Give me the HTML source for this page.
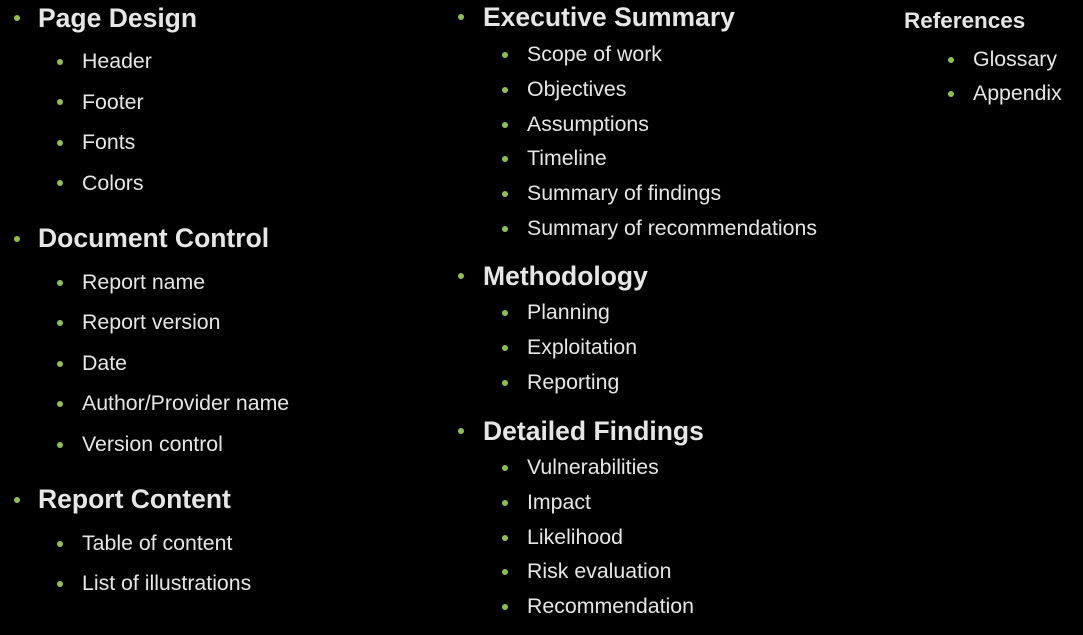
<!DOCTYPE html>
<html><head><meta charset="utf-8"><style>
html,body{margin:0;padding:0;background:#000;width:1083px;height:635px;overflow:hidden}
body{position:relative;font-family:"Liberation Sans",sans-serif;color:#e6e6e6}
.h,.i,.r{position:absolute;white-space:nowrap;line-height:1}
.h{font-size:26.5px;font-weight:bold;margin-top:0px}
.i{font-size:21.3px;margin-top:1px}
.r{font-size:22.5px;font-weight:bold;margin-top:0px}
.b{position:absolute;width:6px;height:6px;border-radius:50%;background:#8fc04f;margin-top:1px}
</style></head><body>
<div class="b" style="left:14px;top:14px"></div><div class="h" style="left:38px;top:5px">Page Design</div>
<div class="b" style="left:57px;top:58px"></div><div class="i" style="left:82px;top:50px">Header</div>
<div class="b" style="left:57px;top:98px"></div><div class="i" style="left:82px;top:91px">Footer</div>
<div class="b" style="left:57px;top:139px"></div><div class="i" style="left:82px;top:131px">Fonts</div>
<div class="b" style="left:57px;top:179px"></div><div class="i" style="left:82px;top:172px">Colors</div>

<div class="b" style="left:14px;top:235px"></div><div class="h" style="left:38px;top:225px">Document Control</div>
<div class="b" style="left:57px;top:279px"></div><div class="i" style="left:82px;top:271px">Report name</div>
<div class="b" style="left:57px;top:319px"></div><div class="i" style="left:82px;top:311px">Report version</div>
<div class="b" style="left:57px;top:360px"></div><div class="i" style="left:82px;top:352px">Date</div>
<div class="b" style="left:57px;top:400px"></div><div class="i" style="left:82px;top:392px">Author/Provider name</div>
<div class="b" style="left:57px;top:441px"></div><div class="i" style="left:82px;top:433px">Version control</div>

<div class="b" style="left:14px;top:496px"></div><div class="h" style="left:38px;top:486px">Report Content</div>
<div class="b" style="left:57px;top:540px"></div><div class="i" style="left:82px;top:532px">Table of content</div>
<div class="b" style="left:57px;top:580px"></div><div class="i" style="left:82px;top:572px">List of illustrations</div>

<div class="b" style="left:458px;top:13px"></div><div class="h" style="left:483px;top:4px">Executive Summary</div>
<div class="b" style="left:502px;top:51px"></div><div class="i" style="left:527px;top:43px">Scope of work</div>
<div class="b" style="left:502px;top:86px"></div><div class="i" style="left:527px;top:78px">Objectives</div>
<div class="b" style="left:502px;top:121px"></div><div class="i" style="left:527px;top:113px">Assumptions</div>
<div class="b" style="left:502px;top:155px"></div><div class="i" style="left:527px;top:147px">Timeline</div>
<div class="b" style="left:502px;top:190px"></div><div class="i" style="left:527px;top:182px">Summary of findings</div>
<div class="b" style="left:502px;top:225px"></div><div class="i" style="left:527px;top:217px">Summary of recommendations</div>

<div class="b" style="left:458px;top:272px"></div><div class="h" style="left:483px;top:263px">Methodology</div>
<div class="b" style="left:502px;top:309px"></div><div class="i" style="left:527px;top:301px">Planning</div>
<div class="b" style="left:502px;top:344px"></div><div class="i" style="left:527px;top:336px">Exploitation</div>
<div class="b" style="left:502px;top:379px"></div><div class="i" style="left:527px;top:371px">Reporting</div>

<div class="b" style="left:458px;top:427px"></div><div class="h" style="left:483px;top:418px">Detailed Findings</div>
<div class="b" style="left:502px;top:464px"></div><div class="i" style="left:527px;top:456px">Vulnerabilities</div>
<div class="b" style="left:502px;top:499px"></div><div class="i" style="left:527px;top:491px">Impact</div>
<div class="b" style="left:502px;top:534px"></div><div class="i" style="left:527px;top:526px">Likelihood</div>
<div class="b" style="left:502px;top:568px"></div><div class="i" style="left:527px;top:560px">Risk evaluation</div>
<div class="b" style="left:502px;top:603px"></div><div class="i" style="left:527px;top:595px">Recommendation</div>

<div class="r" style="left:904px;top:10px">References</div>
<div class="b" style="left:948px;top:56px"></div><div class="i" style="left:973px;top:48px">Glossary</div>
<div class="b" style="left:948px;top:90px"></div><div class="i" style="left:973px;top:82px">Appendix</div>
</body></html>
